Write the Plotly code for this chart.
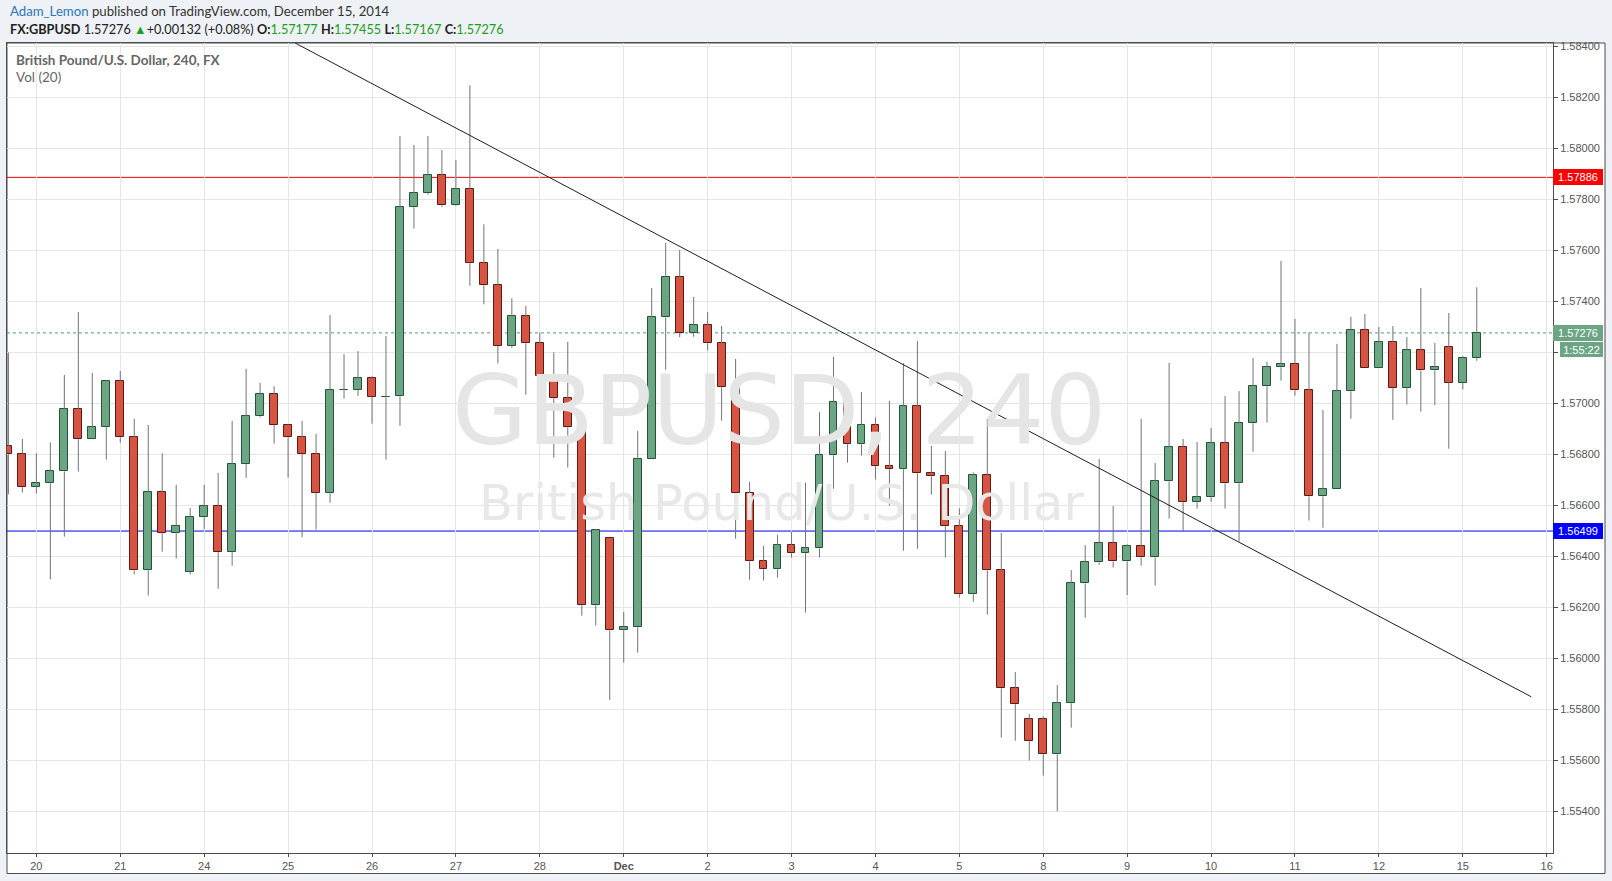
import plotly.graph_objects as go

# ---------------- data ----------------
opens = [1.56831, 1.56800, 1.56671, 1.56686, 1.56733, 1.56976, 1.56859, 1.56906, 1.57086, 1.56867,
         1.56345, 1.56651, 1.56490, 1.56340, 1.56553, 1.56596, 1.56416, 1.56761, 1.56949, 1.57035,
         1.56914, 1.56867, 1.56800, 1.56647, 1.57051, 1.57054, 1.57098, 1.57024, 1.57027, 1.57769,
         1.57824, 1.57894, 1.57776, 1.57839, 1.57549, 1.57463, 1.57224, 1.57341, 1.57235, 1.57106,
         1.57020, 1.56906, 1.56208, 1.56471, 1.56110, 1.56122, 1.56780, 1.57337, 1.57494, 1.57275,
         1.57306, 1.57235, 1.57063, 1.56647, 1.56380, 1.56349, 1.56443, 1.56412, 1.56431, 1.56796,
         1.57004, 1.56839, 1.56914, 1.56753, 1.56741, 1.56988, 1.56725, 1.56714, 1.56518, 1.56251,
         1.56718, 1.56345, 1.55882, 1.55761, 1.55761, 1.55624, 1.55824, 1.56294, 1.56376, 1.56451,
         1.56380, 1.56439, 1.56396, 1.56694, 1.56827, 1.56612, 1.56631, 1.56843, 1.56686, 1.56922,
         1.57067, 1.57141, 1.57153, 1.57051, 1.56635, 1.56663, 1.57047, 1.57286, 1.57137, 1.57239,
         1.57059, 1.57208, 1.57129, 1.57220, 1.57081, 1.57177]
highs = [1.57199, 1.56860, 1.56804, 1.56847, 1.57111, 1.57358, 1.57119, 1.57090, 1.57127, 1.56939,
         1.56915, 1.56804, 1.56680, 1.56590, 1.56680, 1.56727, 1.56931, 1.57135, 1.57080, 1.57067,
         1.56918, 1.56931, 1.56880, 1.57346, 1.57193, 1.57205, 1.57106, 1.57264, 1.58048, 1.58013,
         1.58048, 1.57993, 1.57954, 1.58247, 1.57702, 1.57605, 1.57412, 1.57382, 1.57278, 1.57200,
         1.57241, 1.56965, 1.56507, 1.56471, 1.56182, 1.56892, 1.57452, 1.57629, 1.57601, 1.57417,
         1.57358, 1.57303, 1.57174, 1.56692, 1.56441, 1.56484, 1.56497, 1.56688, 1.56965, 1.57182,
         1.57016, 1.57044, 1.56945, 1.57009, 1.57157, 1.57244, 1.56833, 1.56813, 1.56588, 1.56729,
         1.56939, 1.56492, 1.55946, 1.55782, 1.55773, 1.55895, 1.56346, 1.56444, 1.56782, 1.56597,
         1.56447, 1.56939, 1.56766, 1.57158, 1.56860, 1.56848, 1.56903, 1.57029, 1.57048, 1.57178,
         1.57162, 1.57558, 1.57331, 1.57277, 1.56974, 1.57233, 1.57339, 1.57350, 1.57299, 1.57303,
         1.57260, 1.57452, 1.57237, 1.57354, 1.57186, 1.57455]
lows = [1.56643, 1.56650, 1.56646, 1.56310, 1.56477, 1.56732, 1.56859, 1.56779, 1.56846, 1.56329,
        1.56246, 1.56418, 1.56391, 1.56329, 1.56506, 1.56273, 1.56363, 1.56708, 1.56944, 1.56842,
        1.56708, 1.56475, 1.56505, 1.56610, 1.57018, 1.57029, 1.56920, 1.56779, 1.56912, 1.57685,
        1.57818, 1.57769, 1.57773, 1.57461, 1.57388, 1.57156, 1.57218, 1.57034, 1.57050, 1.56787,
        1.56748, 1.56167, 1.56128, 1.55837, 1.55983, 1.56022, 1.56780, 1.57132, 1.57259, 1.57261,
        1.57207, 1.56932, 1.56469, 1.56308, 1.56305, 1.56316, 1.56395, 1.56179, 1.56395, 1.56665,
        1.56767, 1.56795, 1.56701, 1.56599, 1.56422, 1.56430, 1.56642, 1.56395, 1.56238, 1.56222,
        1.56171, 1.55689, 1.55677, 1.55599, 1.55540, 1.55400, 1.55728, 1.56159, 1.56367, 1.56356,
        1.56248, 1.56363, 1.56285, 1.56548, 1.56497, 1.56587, 1.56614, 1.56587, 1.56458, 1.56810,
        1.56924, 1.57089, 1.57030, 1.56540, 1.56512, 1.56663, 1.56939, 1.57137, 1.57137, 1.56935,
        1.56995, 1.56967, 1.56993, 1.56822, 1.57054, 1.57167]
closes = [1.56800, 1.56671, 1.56686, 1.56733, 1.56976, 1.56859, 1.56906, 1.57086, 1.56867, 1.56345,
          1.56651, 1.56490, 1.56518, 1.56553, 1.56596, 1.56416, 1.56761, 1.56949, 1.57035, 1.56914,
          1.56867, 1.56800, 1.56647, 1.57051, 1.57054, 1.57098, 1.57024, 1.57026, 1.57769, 1.57824,
          1.57894, 1.57776, 1.57839, 1.57549, 1.57463, 1.57224, 1.57341, 1.57235, 1.57106, 1.57020,
          1.56906, 1.56208, 1.56502, 1.56110, 1.56122, 1.56780, 1.57337, 1.57494, 1.57275, 1.57306,
          1.57235, 1.57063, 1.56647, 1.56380, 1.56349, 1.56443, 1.56412, 1.56431, 1.56796, 1.57004,
          1.56839, 1.56914, 1.56753, 1.56741, 1.56988, 1.56725, 1.56714, 1.56518, 1.56251, 1.56718,
          1.56345, 1.55882, 1.55820, 1.55675, 1.55624, 1.55824, 1.56294, 1.56376, 1.56451, 1.56380,
          1.56439, 1.56396, 1.56694, 1.56827, 1.56612, 1.56631, 1.56843, 1.56686, 1.56922, 1.57067,
          1.57141, 1.57153, 1.57051, 1.56635, 1.56663, 1.57047, 1.57286, 1.57137, 1.57239, 1.57059,
          1.57208, 1.57129, 1.57141, 1.57081, 1.57177, 1.57276]

day_index = [2, 8, 14, 20, 26, 32, 38, 44, 50, 56, 62, 68, 74, 80, 86, 92, 98, 104, 110]
day_labels = ["20", "21", "24", "25", "26", "27", "28", "<b>Dec</b>", "2", "3", "4", "5",
              "8", "9", "10", "11", "12", "15", "16"]
price_ticks = [1.554, 1.556, 1.558, 1.560, 1.562, 1.564, 1.566, 1.568, 1.570,
               1.572, 1.574, 1.576, 1.578, 1.580, 1.582, 1.584]

resistance = 1.57886
support = 1.56499
last_price = 1.57276
countdown = "1:55:22"
trend_x = [20.5, 108.9]
trend_y = [1.58413, 1.55849]

# ---------------- styling ----------------
W, H = 1612, 881
PL, PR, PT, PB = 7, 1553, 43, 853
UP, DOWN = "#6ba583", "#d75442"
UP_EDGE, DOWN_EDGE = "#225437", "#5b1a13"
WICK = "#737375"
AXIS_FONT = "Liberation Sans, Arial, sans-serif"
UI_FONT = "Lato, Roboto, sans-serif"


def px2x(px):
    return (px - PL) / (PR - PL)


def px2y(py):
    return (PB - py) / (PB - PT)


n = len(opens)
idx = list(range(n))
body_lo = [min(o, c) for o, c in zip(opens, closes)]
body_hi = [max(o, c) for o, c in zip(opens, closes)]
body_h = [h - l for h, l in zip(body_hi, body_lo)]
is_up = [c >= o for o, c in zip(opens, closes)]

wx, wy = [], []
for i in idx:
    wx += [i, i, None, i, i, None]
    wy += [highs[i], body_hi[i], None, body_lo[i], lows[i], None]

fig = go.Figure()
fig.add_trace(go.Scatter(x=wx, y=wy, mode="lines", line=dict(color=WICK, width=1),
                         hoverinfo="skip", showlegend=False))
fig.add_trace(go.Bar(x=idx, base=body_lo, y=body_h, width=0.56,
                     marker=dict(color=[UP if u else DOWN for u in is_up],
                                 line=dict(color=[UP_EDGE if u else DOWN_EDGE for u in is_up], width=1)),
                     hoverinfo="skip", showlegend=False))
fig.add_trace(go.Scatter(x=trend_x, y=trend_y, mode="lines", line=dict(color="#1e1e1e", width=1),
                         hoverinfo="skip", showlegend=False))

shapes = [
    dict(type="rect", xref="paper", yref="paper", x0=px2x(PL), x1=px2x(1605), y0=px2y(873.5), y1=1,
         fillcolor="white", line=dict(color="#4d4d4d", width=1), layer="below"),
    dict(type="line", xref="paper", yref="y", x0=0, x1=1, y0=resistance, y1=resistance,
         line=dict(color="#ee0000", width=1), layer="between"),
    dict(type="line", xref="paper", yref="y", x0=0, x1=1, y0=support, y1=support,
         line=dict(color="#0000ee", width=1), layer="between"),
    dict(type="line", xref="paper", yref="y", x0=0, x1=1, y0=last_price, y1=last_price,
         line=dict(color="#4f9a6e", width=1, dash="dot"), layer="between"),
]

annotations = [
    # header
    dict(xref="paper", yref="paper", x=px2x(8), y=px2y(11.5), xanchor="left", yanchor="middle",
         text="<span style='color:#2a78b8'>Adam_Lemon</span> published on TradingView.com, December 15, 2014",
         font=dict(family=UI_FONT, size=13.2, color="#333333"), showarrow=False),
    dict(xref="paper", yref="paper", x=px2x(8), y=px2y(29), xanchor="left", yanchor="middle",
         text=("<b>FX:GBPUSD</b> 1.57276 <span style='color:#1e9e1e'>▲</span>+0.00132 (+0.08%) "
               "<b>O:</b><span style='color:#1e9e1e'>1.57177</span> "
               "<b>H:</b><span style='color:#1e9e1e'>1.57455</span> "
               "<b>L:</b><span style='color:#1e9e1e'>1.57167</span> "
               "<b>C:</b><span style='color:#1e9e1e'>1.57276</span>"),
         font=dict(family=UI_FONT, size=12.7, color="#222222"), showarrow=False),
    # legend
    dict(xref="paper", yref="paper", x=px2x(14), y=px2y(59.5), xanchor="left", yanchor="middle",
         text="<b>British Pound/U.S. Dollar, 240, FX</b>",
         font=dict(family=UI_FONT, size=13.5, color="#666666"), showarrow=False),
    dict(xref="paper", yref="paper", x=px2x(14), y=px2y(76.5), xanchor="left", yanchor="middle",
         text="Vol (20)", font=dict(family=UI_FONT, size=13.5, color="#666666"), showarrow=False),
    # watermark
    dict(xref="paper", yref="paper", x=px2x(779), y=px2y(411), xanchor="center", yanchor="middle",
         text="GBPUSD, 240", font=dict(family="DejaVu Sans", size=97, color="#e5e5e5"), showarrow=False),
    dict(xref="paper", yref="paper", x=px2x(781), y=px2y(503), xanchor="center", yanchor="middle",
         text="British Pound/U.S. Dollar", font=dict(family="DejaVu Sans", size=49.5, color="#e8e8e8"),
         showarrow=False),
    # price labels
    dict(xref="paper", yref="y", x=1, y=resistance, xanchor="left", yanchor="middle",
         text=f"{resistance:.5f}", bgcolor="#ff0000", width=48, height=14, borderpad=1, borderwidth=0,
         font=dict(family=AXIS_FONT, size=11, color="white"), showarrow=False),
    dict(xref="paper", yref="y", x=1, y=support, xanchor="left", yanchor="middle",
         text=f"{support:.5f}", bgcolor="#0000ff", width=48, height=14, borderpad=1, borderwidth=0,
         font=dict(family=AXIS_FONT, size=11, color="white"), showarrow=False),
    dict(xref="paper", yref="y", x=1, y=last_price, xanchor="left", yanchor="middle",
         text=f"{last_price:.5f}", bgcolor=UP, width=48, height=14, borderpad=1, borderwidth=0,
         font=dict(family=AXIS_FONT, size=11, color="white"), showarrow=False),
    dict(xref="paper", yref="paper", x=px2x(1560), y=px2y(349.5), xanchor="left", yanchor="middle",
         text=countdown, bgcolor=UP, width=41, height=13, borderpad=1, borderwidth=0,
         font=dict(family=AXIS_FONT, size=11, color="white"), showarrow=False),
]

fig.update_layout(
    width=W, height=H,
    margin=dict(l=PL, r=W - PR, t=PT, b=H - PB, pad=0),
    paper_bgcolor="#eef1f5", plot_bgcolor="white",
    showlegend=False, bargap=0,
    shapes=shapes, annotations=annotations,
    xaxis=dict(range=[-0.1, 110.45], tickmode="array", tickvals=day_index, ticktext=day_labels,
               showgrid=True, gridcolor="#e6e6e6", gridwidth=1, zeroline=False,
               showline=True, linecolor="#4d4d4d", linewidth=1, mirror=True,
               ticks="outside", ticklen=3, tickcolor="#4d4d4d",
               tickfont=dict(family=AXIS_FONT, size=11, color="#555555"), fixedrange=True),
    yaxis=dict(range=[1.552365, 1.584129], side="right", tickmode="array", tickvals=price_ticks,
               tickformat=".5f", showgrid=True, gridcolor="#e6e6e6", gridwidth=1, zeroline=False,
               showline=True, linecolor="#4d4d4d", linewidth=1, mirror=True,
               ticks="outside", ticklen=4, tickcolor="#4d4d4d",
               tickfont=dict(family=AXIS_FONT, size=11, color="#555555"), fixedrange=True),
)

fig.write_html("out.html", config={"displayModeBar": False},
               post_script="document.body.style.margin='0';document.body.style.background='#eef1f5';")
